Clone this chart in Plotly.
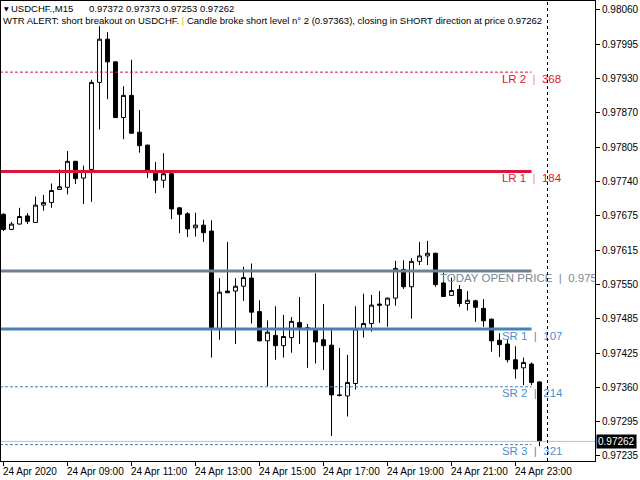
import numpy as np
import plotly.graph_objects as go

# ---------------- data ----------------
bar_index = list(range(68))  # 24 Apr 2020 07:00 ... 23:45, M15 bars
open_ = [0.97682, 0.97654, 0.97664, 0.97679, 0.97667, 0.97699, 0.97704, 0.97728, 0.97732, 0.97780,
         0.97749, 0.97765, 0.97926, 0.98006, 0.97964, 0.97861, 0.97902, 0.97834, 0.97810, 0.97758,
         0.97745, 0.97757, 0.97694, 0.97683, 0.97657, 0.97662, 0.97651, 0.97470, 0.97540, 0.97540,
         0.97549, 0.97564, 0.97502, 0.97448, 0.97458, 0.97439, 0.97454, 0.97482, 0.97472, 0.97468,
         0.97450, 0.97440, 0.97348, 0.97346, 0.97369, 0.97470, 0.97480, 0.97516, 0.97514, 0.97527,
         0.97580, 0.97548, 0.97595, 0.97605, 0.97610, 0.97555, 0.97532, 0.97543, 0.97517, 0.97522,
         0.97508, 0.97488, 0.97449, 0.97442, 0.97413, 0.97398, 0.97405, 0.97372]
high = [0.97684, 0.97668, 0.97694, 0.97684, 0.97715, 0.97718, 0.97739, 0.97765, 0.97799, 0.97781,
        0.97772, 0.97931, 0.98030, 0.98019, 0.97965, 0.97919, 0.97968, 0.97875, 0.97811, 0.97779,
        0.97795, 0.97760, 0.97695, 0.97686, 0.97685, 0.97672, 0.97671, 0.97564, 0.97631, 0.97564,
        0.97585, 0.97591, 0.97523, 0.97486, 0.97512, 0.97496, 0.97492, 0.97529, 0.97479, 0.97573,
        0.97516, 0.97468, 0.97435, 0.97422, 0.97512, 0.97535, 0.97533, 0.97540, 0.97528, 0.97596,
        0.97597, 0.97601, 0.97631, 0.97633, 0.97611, 0.97574, 0.97565, 0.97551, 0.97540, 0.97524,
        0.97525, 0.97489, 0.97462, 0.97450, 0.97438, 0.97417, 0.97408, 0.97373]
low = [0.97651, 0.97653, 0.97663, 0.97664, 0.97667, 0.97689, 0.97694, 0.97727, 0.97719, 0.97738,
       0.97701, 0.97705, 0.97839, 0.97895, 0.97860, 0.97821, 0.97831, 0.97796, 0.97749, 0.97721,
       0.97731, 0.97673, 0.97647, 0.97640, 0.97641, 0.97631, 0.97417, 0.97450, 0.97537, 0.97442,
       0.97522, 0.97480, 0.97447, 0.97364, 0.97413, 0.97417, 0.97426, 0.97442, 0.97398, 0.97406,
       0.97394, 0.97272, 0.97345, 0.97308, 0.97358, 0.97454, 0.97465, 0.97481, 0.97474, 0.97513,
       0.97544, 0.97489, 0.97588, 0.97588, 0.97548, 0.97529, 0.97532, 0.97511, 0.97504, 0.97483,
       0.97474, 0.97428, 0.97418, 0.97408, 0.97378, 0.97366, 0.97366, 0.97253]
close = [0.97654, 0.97664, 0.97678, 0.97669, 0.97699, 0.97704, 0.97726, 0.97733, 0.97780, 0.97748,
         0.97763, 0.97926, 0.98006, 0.97964, 0.97861, 0.97902, 0.97832, 0.97809, 0.97760, 0.97745,
         0.97757, 0.97692, 0.97682, 0.97655, 0.97662, 0.97648, 0.97470, 0.97538, 0.97537, 0.97549,
         0.97565, 0.97501, 0.97448, 0.97464, 0.97439, 0.97456, 0.97484, 0.97472, 0.97471, 0.97446,
         0.97439, 0.97348, 0.97347, 0.97371, 0.97470, 0.97480, 0.97514, 0.97514, 0.97527, 0.97582,
         0.97548, 0.97595, 0.97605, 0.97610, 0.97552, 0.97530, 0.97541, 0.97517, 0.97523, 0.97510,
         0.97485, 0.97448, 0.97441, 0.97413, 0.97396, 0.97408, 0.97371, 0.97262]

time_label_bars = [0, 8, 16, 24, 32, 40, 48, 56, 64]
time_labels = ["24 Apr 2020", "24 Apr 09:00", "24 Apr 11:00", "24 Apr 13:00", "24 Apr 15:00",
               "24 Apr 17:00", "24 Apr 19:00", "24 Apr 21:00", "24 Apr 23:00"]

price_tick_labels = ["0.98060", "0.97995", "0.97930", "0.97870", "0.97805", "0.97740", "0.97675",
                     "0.97615", "0.97550", "0.97485", "0.97425", "0.97360", "0.97295", "0.97235"]

today_open = 0.97577
level_names = ["LR 2", "LR 1", "TODAY OPEN PRICE", "SR 1", "SR 2", "SR 3"]
level_points = [368, 184, None, 107, 214, 321]
level_prices = [0.97945, 0.97761, 0.97577, 0.97470, 0.97363, 0.97256]

last_price = 0.97262
symbol_text = "USDCHF.,M15"
ohlc_text = "0.97372 0.97373 0.97253 0.97262"
alert_left = "WTR ALERT: short breakout on USDCHF."
alert_right = "Candle broke short level n° 2 (0.97363), closing in SHORT direction at price 0.97262"

# ---------------- styles ----------------
FONT = "Liberation Sans"
CRIMSON = "#DC143C"
STEEL = "#4682B4"
STEEL_TXT = "#4F8FCC"
SLATE = "#708090"
SLATE_TXT = "#7D8893"
PIPE_LR = "#F0906A"
NB = "\u00a0"

level_styles = [
    dict(color=CRIMSON, width=1, dash="3px,2px", txt=CRIMSON, pipe=PIPE_LR),
    dict(color=CRIMSON, width=3, dash="solid", txt=CRIMSON, pipe=PIPE_LR),
    dict(color=SLATE, width=3, dash="solid", txt=SLATE_TXT, pipe=SLATE_TXT),
    dict(color=STEEL, width=3, dash="solid", txt=STEEL_TXT, pipe=STEEL_TXT),
    dict(color=STEEL, width=1, dash="3px,2px", txt=STEEL_TXT, pipe=STEEL_TXT),
    dict(color=STEEL, width=1, dash="3px,2px", txt=STEEL_TXT, pipe=STEEL_TXT),
]

x_range = [-0.3125, 73.9375]
y_range = [0.972257, 0.980766]
px_price = (y_range[1] - y_range[0]) / 460.0  # price per pixel (for label nudging)

fig = go.Figure()

fig.add_trace(go.Candlestick(
    x=bar_index, open=open_, high=high, low=low, close=close,
    increasing=dict(line=dict(color="black", width=1), fillcolor="white"),
    decreasing=dict(line=dict(color="black", width=1), fillcolor="black"),
    whiskerwidth=0, showlegend=False, hoverinfo="skip",
))

shapes = []
line_end_bar = 66
for price, st in zip(level_prices, level_styles):
    shapes.append(dict(type="line", xref="x", yref="y", x0=x_range[0] - 2, x1=line_end_bar,
                       y0=price, y1=price,
                       line=dict(color=st["color"], width=st["width"], dash=st["dash"])))
# bid line
shapes.append(dict(type="line", xref="paper", yref="y", x0=0, x1=1, y0=last_price, y1=last_price,
                   line=dict(color="#C0C0C0", width=1)))
# vertical separator at next bar
shapes.append(dict(type="line", xref="x", yref="paper", x0=68, x1=68, y0=0, y1=1,
                   line=dict(color="black", width=1, dash="3px,3px")))

# level labels (clipped to plot area)
lab_x, lab_y, lab_t, lab_c = [], [], [], []
for name, pts, price, st in zip(level_names, level_points, level_prices, level_styles):
    val = str(pts) if pts is not None else f"{today_open:.5f}"
    lab_x.append(62.3 if pts is not None else 54.55)
    lab_y.append(price - 2 * px_price)
    lab_t.append(f'{name}{NB}{NB}<span style="color:{st["pipe"]}">|</span>{NB}{NB}{val}')
    lab_c.append(st["txt"])
fig.add_trace(go.Scatter(x=lab_x, y=lab_y, mode="text", text=lab_t, textposition="bottom right",
                         textfont=dict(family=FONT, size=11.5, color=lab_c), cliponaxis=True,
                         showlegend=False, hoverinfo="skip"))

annotations = []
for b, t in zip(time_label_bars, time_labels):
    annotations.append(dict(x=b, y=0, xref="x", yref="paper", text=t, showarrow=False,
                            xanchor="left", yanchor="top", xshift=-3, yshift=-3,
                            font=dict(family=FONT, size=10, color="black")))
# header
annotations.append(dict(x=0, y=1, xref="paper", yref="paper", text="▼", showarrow=False,
                        xanchor="left", yanchor="middle", xshift=1, yshift=-7,
                        font=dict(family="DejaVu Sans", size=6, color="black")))
annotations.append(dict(x=0, y=1, xref="paper", yref="paper", text=symbol_text, showarrow=False,
                        xanchor="left", yanchor="middle", xshift=8, yshift=-7,
                        font=dict(family=FONT, size=9.5, color="black")))
annotations.append(dict(x=0, y=1, xref="paper", yref="paper", text=ohlc_text, showarrow=False,
                        xanchor="left", yanchor="middle", xshift=86, yshift=-7,
                        font=dict(family=FONT, size=9.5, color="black")))
annotations.append(dict(x=0, y=1, xref="paper", yref="paper",
                        text=f'{alert_left} <span style="color:#FFA500">|</span> {alert_right}',
                        showarrow=False, xanchor="left", yanchor="middle", xshift=0, yshift=-19,
                        font=dict(family=FONT, size=9.5, color="black")))
# current price tag
annotations.append(dict(x=1, y=last_price, xref="paper", yref="y", text=f"{last_price:.5f}",
                        showarrow=False, xanchor="left", yanchor="middle", xshift=1,
                        bgcolor="black", borderpad=1,
                        font=dict(family=FONT, size=10, color="white")))

tickvals = list(np.linspace(float(price_tick_labels[0]), float(price_tick_labels[-1]),
                            len(price_tick_labels)))

fig.update_layout(
    width=640, height=480,
    margin=dict(l=1, r=45, t=1, b=19),
    paper_bgcolor="white", plot_bgcolor="white",
    shapes=shapes, annotations=annotations,
    font=dict(family=FONT, size=10, color="black"),
    xaxis=dict(range=x_range, type="linear", tickvals=time_label_bars, showticklabels=False,
               ticks="outside", ticklen=4, tickcolor="black", showgrid=False, zeroline=False,
               showline=True, linecolor="black", linewidth=1, mirror=True,
               rangeslider=dict(visible=False), fixedrange=True),
    yaxis=dict(range=y_range, side="right", tickvals=tickvals, ticktext=price_tick_labels,
               ticks="outside", ticklen=4, tickcolor="black", showgrid=False, zeroline=False,
               showline=True, linecolor="black", linewidth=1, mirror=True,
               tickfont=dict(family=FONT, size=10, color="black"), fixedrange=True),
)

fig.write_html("out.html", config={"displayModeBar": False},
               post_script="document.body.style.margin='0';")
